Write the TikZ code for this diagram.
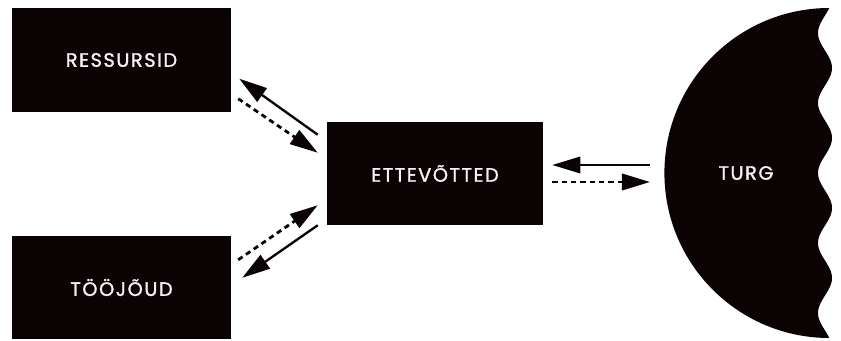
\documentclass[tikz,border=0pt]{standalone}
\usepackage{fontspec}
\setmainfont{Poppins}
\usepackage{tikz}
\usetikzlibrary{arrows.meta}
\definecolor{ink}{HTML}{0A0203}
\definecolor{paper}{HTML}{F4F4F4}
\newcommand{\capfont}{\fontsize{16.5}{19}\selectfont\addfontfeature{LetterSpace=8,FakeBold=1.4}}
\tikzset{
  blk/.style={fill=ink,draw=none,inner sep=0pt,minimum width=6.57cm,
    minimum height=3.09cm,text=paper,font=\capfont},
  lbl/.style={text=paper,font=\capfont},
  flow/.style={-{Triangle[length=24pt,width=14pt]},line width=2pt,color=ink},
  back/.style={flow,line width=2.4pt,dash pattern=on 4.5pt off 3.5pt}
}
\begin{document}
\begin{tikzpicture}[x=0.03cm,y=-0.03cm]
  \useasboundingbox (0,0) rectangle (841,341);
  % inputs and firms
  \node[blk] (res) at (121.5,60)  {RESSURSID};
  \node[blk] (too) at (121.5,287.5) {TÖÖJÕUD};
  \node[blk,minimum width=6.48cm] (ett) at (435,173.5) {ETTEVÕTTED};
  % market: half disc with a wavy right edge
  \fill[ink] (829.4,8) arc[start angle=-90,end angle=-270,radius=165]
    -- plot[domain=338:8,samples=140] ({825+7*sin((\x-33)/70*360+270)},\x) -- cycle;
  \coordinate (mkt) at (664,173.5);
  \node[lbl] (turg) at (746,173) {TURG};
  % resources <-> firms
  \draw[flow] ([shift={(-9,13)}]ett.north west) -- ([shift={(8,-33)}]res.south east);
  \draw[back] ([shift={(7,-13)}]res.south east) -- ([shift={(-9,31)}]ett.north west);
  % labour <-> firms
  \draw[back] ([shift={(7,24)}]too.north east) -- ([shift={(-9,-20)}]ett.south west);
  \draw[flow] ([shift={(-9,0)}]ett.south west) -- ([shift={(11,42)}]too.north east);
  % firms <-> market
  \draw[flow] ([shift={(-14,-8.5)}]mkt) -- ([shift={(9,-8.5)}]ett.east);
  \draw[back] ([shift={(9,8.5)}]ett.east) -- ([shift={(-14,8.5)}]mkt);
\end{tikzpicture}
\end{document}
